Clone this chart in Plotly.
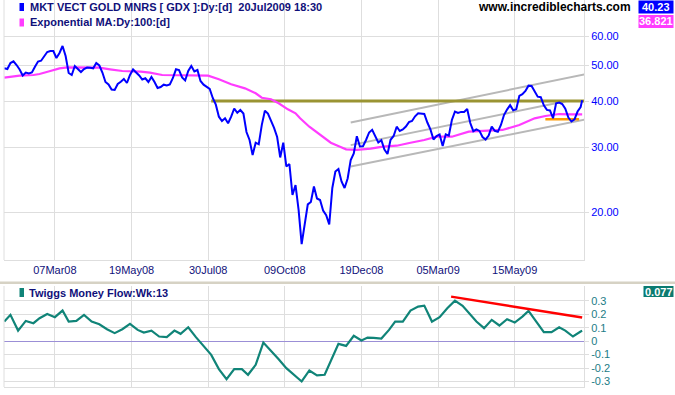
import pandas as pd
import plotly.graph_objects as go

W, H = 675, 395

# ---------------- data ----------------
holidays = ["2008-01-21", "2008-02-18", "2008-03-21", "2008-05-26", "2008-07-04",
            "2008-09-01", "2008-11-27", "2008-12-25", "2009-01-01", "2009-01-19",
            "2009-02-16", "2009-04-10", "2009-05-25", "2009-07-03"]
first_day, last_day = "2008-01-18", "2009-07-20"

tick_dates = ["2008-03-07", "2008-05-19", "2008-07-30", "2008-10-09",
              "2008-12-19", "2009-03-05", "2009-05-15"]

# GDX close, every second trading day (plus the last day)
price = [49.06, 48.85, 50.71, 51.25, 50.08, 48.70, 46.91, 47.79, 47.50, 47.79,
         49.55, 51.18, 51.44, 52.97, 54.31, 54.65, 54.65, 52.31, 53.97, 56.38,
         52.97, 47.65, 47.06, 49.77, 48.85, 47.94, 48.85, 49.31, 49.25, 49.06,
         50.71, 49.93, 47.79, 45.05, 44.36, 42.99, 42.86, 44.50, 45.14, 45.90,
         44.77, 47.06, 48.70, 47.94, 46.91, 45.76, 46.10, 45.05, 46.48, 45.05,
         43.40, 43.67, 44.30, 44.08, 44.36, 46.19, 48.76, 48.54, 46.33, 45.48,
         48.24, 49.77, 48.09, 48.54, 45.34, 44.30, 43.67, 43.13, 40.78, 39.11,
         36.29, 35.33, 35.93, 34.83, 36.29, 38.19, 37.18, 37.83, 37.02, 32.99,
         31.39, 28.59, 30.86, 30.56, 34.48, 37.67, 37.02, 35.55, 33.83, 31.98,
         28.15, 30.86, 26.61, 27.03, 22.28, 23.71, 20.30, 16.40, 18.68, 21.02,
         21.33, 23.50, 21.80, 21.59, 20.23, 19.64, 18.54, 23.28, 25.79, 26.20,
         24.24, 23.28, 24.69, 27.71, 28.86, 32.12, 30.15, 30.18, 31.39, 32.89,
         33.45, 32.18, 30.90, 31.35, 29.59, 28.77, 31.43, 32.18, 34.10, 33.20,
         33.51, 34.14, 35.07, 35.33, 36.38, 37.07, 37.02, 36.90, 35.00, 33.53,
         31.49, 32.16, 32.48, 30.24, 32.52, 32.26, 35.55, 37.46, 37.13, 37.39,
         37.37, 38.07, 34.89, 33.16, 33.55, 33.22, 31.98, 31.49, 32.28, 34.10,
         33.24, 33.03, 34.46, 36.67, 37.93, 38.99, 37.76, 38.02, 41.31, 41.75,
         42.59, 44.03, 43.94, 42.51, 41.11, 40.98, 38.94, 37.86, 37.72, 35.95,
         39.45, 39.65, 39.28, 38.14, 36.09, 35.22, 35.69, 37.48, 38.55, 40.23]

# 100-day exponential MA (trading-day number, value)
ema_day = [0, 10, 19, 23, 30, 36, 41, 51, 62, 69, 77, 89, 95, 103, 114, 127, 133,
           140, 148, 157, 164, 168, 174, 179, 185, 190, 193, 199, 206, 213, 219,
           223, 230, 239, 247, 256, 265, 274, 282, 292, 303, 314, 325, 336, 346,
           353, 362, 370, 377]
ema_val = [46.28, 46.85, 47.06, 47.35, 48.24, 49.06, 49.37, 49.25, 49.25, 48.76,
           48.24, 48.03, 47.74, 47.06, 47.06, 47.06, 46.85, 45.82, 44.41, 43.31,
           41.99, 40.85, 40.45, 39.45, 38.00, 37.07, 35.93, 34.10, 32.38, 30.86,
           30.11, 29.62, 29.50, 29.74, 30.11, 30.29, 30.86, 31.39, 32.04, 32.04,
           33.05, 33.20, 33.41, 34.46, 35.93, 36.45, 36.90, 36.83, 36.82]

# Twiggs Money Flow (weekly, 13)
tmf = [0.146, 0.196, 0.079, 0.151, 0.134, 0.171, 0.203, 0.179, 0.228, 0.146,
       0.151, 0.196, 0.146, 0.126, 0.089, 0.060, 0.089, 0.129, 0.084, 0.064,
       0.079, 0.035, 0.030, 0.079, 0.055, 0.104, 0.030, -0.040, -0.102, -0.208,
       -0.283, -0.208, -0.208, -0.250, -0.176, -0.010, -0.069, -0.134, -0.201, -0.250,
       -0.300, -0.218, -0.255, -0.250, -0.119, -0.020, -0.035, 0.040, 0.005, 0.027,
       0.025, 0.020, 0.084, 0.146, 0.146, 0.228, 0.258, 0.265, 0.146, 0.179,
       0.245, 0.302, 0.263, 0.196, 0.146, 0.097, 0.159, 0.117, 0.164, 0.139,
       0.183, 0.226, 0.146, 0.067, 0.067, 0.104, 0.079, 0.035, 0.072, 0.077]

# drawn trend lines (trading-day number, value)
resist_day, resist_val = [135, 380], [40.0, 40.0]
support_day, support_val = [353, 375], [35.7, 35.7]
chan_day = [226, 380]
chan_upper = [35.0, 47.4]
chan_lower = [26.6, 35.75]
mid_day, mid_val = [226, 367], [30.4, 40.0]
tmf_trend_day, tmf_trend_val = [291.5, 377], [0.332, 0.176]

last_close, last_ema, last_tmf = "40.23", "36.821", "0.077"
title1 = "MKT VECT GOLD MNRS [ GDX ]:Dy:[d]\u00a0\u00a020Jul2009 18:30"
title2 = "Exponential MA:Dy:100:[d]"
title3 = "Twiggs Money Flow:Wk:13"
site = "www.incrediblecharts.com"

# ---------------- calendar ----------------
days = pd.bdate_range(first_day, last_day)
days = days[~days.isin(pd.to_datetime(holidays))]
n = len(days)
price_day = list(range(0, n - 1, 2)) + [n - 1]
fridays = pd.date_range(first_day, "2009-07-17", freq="W-FRI")
tmf_day = list(days.searchsorted(fridays, side="right") - 1) + [n - 1]
tick_idx = list(days.get_indexer(pd.to_datetime(tick_dates)))
tick_txt = [pd.Timestamp(d).strftime("%d%b%y") for d in tick_dates]

# ---------------- styling ----------------
FONT = "Liberation Sans, Arial, sans-serif"
GRID = "#dedede"
BLUE = "#0000ff"
MAG = "#ff3cff"
TEAL = "#108478"
NAVY = "#10107a"

def px(x):
    return x / W

def py(y):
    return 1 - y / H

fig = go.Figure()

# top panel
for d, v in [(chan_day, chan_upper), (chan_day, chan_lower), (mid_day, mid_val)]:
    fig.add_trace(go.Scatter(x=d, y=v, mode="lines", line=dict(color="#b8b8b8", width=2),
                             xaxis="x", yaxis="y", hoverinfo="skip"))
fig.add_trace(go.Scatter(x=resist_day, y=resist_val, mode="lines",
                         line=dict(color="#9a9433", width=3), xaxis="x", yaxis="y"))
fig.add_trace(go.Scatter(x=support_day, y=support_val, mode="lines",
                         line=dict(color="#ff9900", width=2.5), xaxis="x", yaxis="y"))
fig.add_trace(go.Scatter(x=ema_day, y=ema_val, mode="lines",
                         line=dict(color=MAG, width=2.2), xaxis="x", yaxis="y"))
fig.add_trace(go.Scatter(x=price_day, y=price, mode="lines",
                         line=dict(color=BLUE, width=2), xaxis="x", yaxis="y"))

# bottom panel
fig.add_trace(go.Scatter(x=tmf_day, y=tmf, mode="lines",
                         line=dict(color=TEAL, width=2.2), xaxis="x2", yaxis="y2"))
fig.add_trace(go.Scatter(x=tmf_trend_day, y=tmf_trend_val, mode="lines",
                         line=dict(color="#ff0000", width=2.5), xaxis="x2", yaxis="y2"))

xdom = [px(4), px(584)]
xr = [-0.2, 378.2]

fig.update_layout(
    width=W, height=H, margin=dict(l=0, r=0, t=0, b=0),
    paper_bgcolor="white", plot_bgcolor="white", showlegend=False,
    font=dict(family=FONT, size=11),
    xaxis=dict(domain=xdom, range=xr, anchor="y", showgrid=True, gridcolor=GRID,
               tickvals=tick_idx, ticktext=tick_txt, ticks="",
               tickfont=dict(family=FONT, size=11, color=NAVY),
               showline=True, linecolor=GRID, zeroline=False),
    yaxis=dict(domain=[py(260), 1], type="log", range=[1.1720, 1.8756], side="right",
               anchor="x", tickvals=[20, 30, 40, 50, 60],
               ticktext=["20.00", "30.00", "40.00", "50.00", "60.00"],
               tickfont=dict(family=FONT, size=11, color=BLUE),
               showgrid=True, gridcolor=GRID, ticks="outside", ticklen=4, tickcolor=GRID,
               showline=True, linecolor=GRID, zeroline=False),
    xaxis2=dict(domain=xdom, range=xr, anchor="y2", showgrid=True, gridcolor=GRID,
                tickvals=tick_idx, showticklabels=False, ticks="",
                showline=True, linecolor=GRID, zeroline=False),
    yaxis2=dict(domain=[py(387), py(286)], range=[-0.341, 0.411], side="right", anchor="x2",
                tickvals=[-0.3, -0.2, -0.1, 0, 0.1, 0.2, 0.3],
                ticktext=["-0.3", "-0.2", "-0.1", "0", "0.1", "0.2", "0.3"],
                tickfont=dict(family=FONT, size=11, color="#1c7c86"),
                showgrid=True, gridcolor=GRID, ticks="outside", ticklen=4, tickcolor=GRID,
                zeroline=True, zerolinecolor="#9b8fd6", zerolinewidth=1,
                showline=True, linecolor=GRID),
)

shapes = [
    dict(type="line", xref="paper", yref="paper", x0=px(4), x1=px(4), y0=py(0), y1=py(260),
         line=dict(color=GRID, width=1)),
    dict(type="line", xref="paper", yref="paper", x0=px(4), x1=px(4), y0=py(286), y1=py(387),
         line=dict(color=GRID, width=1)),
    dict(type="rect", xref="paper", yref="paper", x0=0, x1=1, y0=py(284), y1=py(281.5),
         fillcolor="#d6d2c4", line=dict(width=0)),
    dict(type="rect", xref="paper", yref="paper", x0=px(19.5), x1=px(24), y0=py(11), y1=py(3),
         fillcolor=BLUE, line=dict(width=0)),
    dict(type="rect", xref="paper", yref="paper", x0=px(19.5), x1=px(24), y0=py(26.5), y1=py(18.5),
         fillcolor=MAG, line=dict(width=0)),
    dict(type="rect", xref="paper", yref="paper", x0=px(19.5), x1=px(24), y0=py(297), y1=py(288),
         fillcolor=TEAL, line=dict(width=0)),
    dict(type="rect", xref="paper", yref="paper", x0=px(638.5), x1=px(673.5), y0=py(13.5), y1=py(0.5),
         fillcolor=BLUE, line=dict(width=0)),
    dict(type="rect", xref="paper", yref="paper", x0=px(638.5), x1=px(673.5), y0=py(28), y1=py(15),
         fillcolor=MAG, line=dict(width=0)),
    dict(type="rect", xref="paper", yref="paper", x0=px(643.5), x1=px(673.5), y0=py(297), y1=py(286),
         fillcolor="#0b7b70", line=dict(width=0)),
]
fig.update_layout(shapes=shapes)

def label(text, x, y, color, size=11, anchor="left", bold=True):
    fig.add_annotation(text=("<b>%s</b>" % text) if bold else text,
                       xref="paper", yref="paper", x=px(x), y=py(y),
                       xanchor=anchor, yanchor="middle", showarrow=False,
                       font=dict(family=FONT, size=size, color=color))

label(title1, 28, 7, NAVY)
label(title2, 28, 22.5, NAVY)
label(site, 633, 7, "#000000", size=12, anchor="right")
label(last_close, 656, 7, "white", anchor="center")
label(last_ema, 656, 21.5, "white", anchor="center")
label(title3, 27, 292.5, NAVY)
label(last_tmf, 658.5, 291.5, "white", anchor="center")

fig.write_html(
    "out.html",
    config={"displayModeBar": False},
    post_script="document.body.style.margin='0';document.body.style.overflow='hidden';",
)
